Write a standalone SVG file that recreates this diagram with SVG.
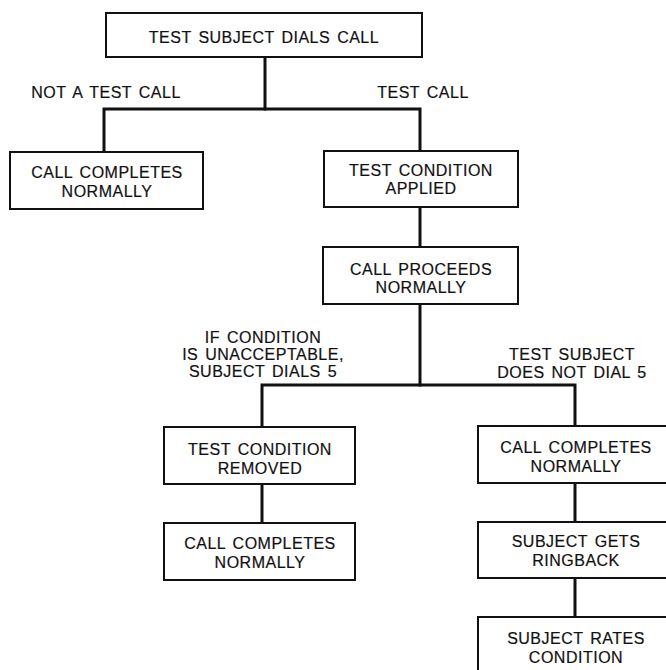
<svg xmlns="http://www.w3.org/2000/svg" width="666" height="670" viewBox="0 0 666 670">
<style>
.box{fill:#fff;stroke:#111;stroke-width:2}
.c{fill:none;stroke:#111;stroke-width:3;stroke-linecap:square;stroke-linejoin:miter}
text{font-family:"Liberation Sans",Arial,sans-serif;font-size:16px;letter-spacing:0.5px;word-spacing:2px;fill:#111;stroke:#111;stroke-width:0.2;text-anchor:middle}
</style>
<rect width="666" height="670" fill="#fff"/>
<g id="connectors">
<path class="c" d="M265 57V109"/>
<path class="c" d="M104 152V109H420V151"/>
<path class="c" d="M420 207V247"/>
<path class="c" d="M420 304V385"/>
<path class="c" d="M262 427V385H575V426"/>
<path class="c" d="M262 484V523"/>
<path class="c" d="M575 483V522"/>
<path class="c" d="M575 578V617"/>
</g>
<g id="labels">
<text x="106" y="98">NOT A TEST CALL</text>
<text x="423" y="98">TEST CALL</text>
<text x="263" y="343">IF CONDITION</text>
<text x="263" y="360">IS UNACCEPTABLE,</text>
<text x="263" y="377">SUBJECT DIALS 5</text>
<text x="572" y="360">TEST SUBJECT</text>
<text x="572" y="378">DOES NOT DIAL 5</text>
</g>
<g id="n1"><rect class="box" x="106" y="13" width="316" height="44"/><text x="264" y="42.5">TEST SUBJECT DIALS CALL</text></g>
<g id="n2"><rect class="box" x="10" y="152" width="193" height="57"/><text x="107" y="177.5">CALL COMPLETES</text><text x="107" y="196.5">NORMALLY</text></g>
<g id="n3"><rect class="box" x="324" y="151" width="194" height="56"/><text x="421" y="175.5">TEST CONDITION</text><text x="421" y="193.5">APPLIED</text></g>
<g id="n4"><rect class="box" x="323" y="247" width="195" height="57"/><text x="421" y="274.5">CALL PROCEEDS</text><text x="421" y="292.5">NORMALLY</text></g>
<g id="n5"><rect class="box" x="164" y="427" width="191" height="57"/><text x="260" y="454.5">TEST CONDITION</text><text x="260" y="473.5">REMOVED</text></g>
<g id="n6"><rect class="box" x="164" y="523" width="191" height="57"/><text x="260" y="548.5">CALL COMPLETES</text><text x="260" y="567.5">NORMALLY</text></g>
<g id="n7"><rect class="box" x="478" y="426" width="196" height="57"/><text x="576" y="452.5">CALL COMPLETES</text><text x="576" y="471.5">NORMALLY</text></g>
<g id="n8"><rect class="box" x="478" y="522" width="196" height="56"/><text x="576" y="546.5">SUBJECT GETS</text><text x="576" y="565.5">RINGBACK</text></g>
<g id="n9"><rect class="box" x="478" y="617" width="196" height="60"/><text x="576" y="643.5">SUBJECT RATES</text><text x="576" y="662.5">CONDITION</text></g>
</svg>
